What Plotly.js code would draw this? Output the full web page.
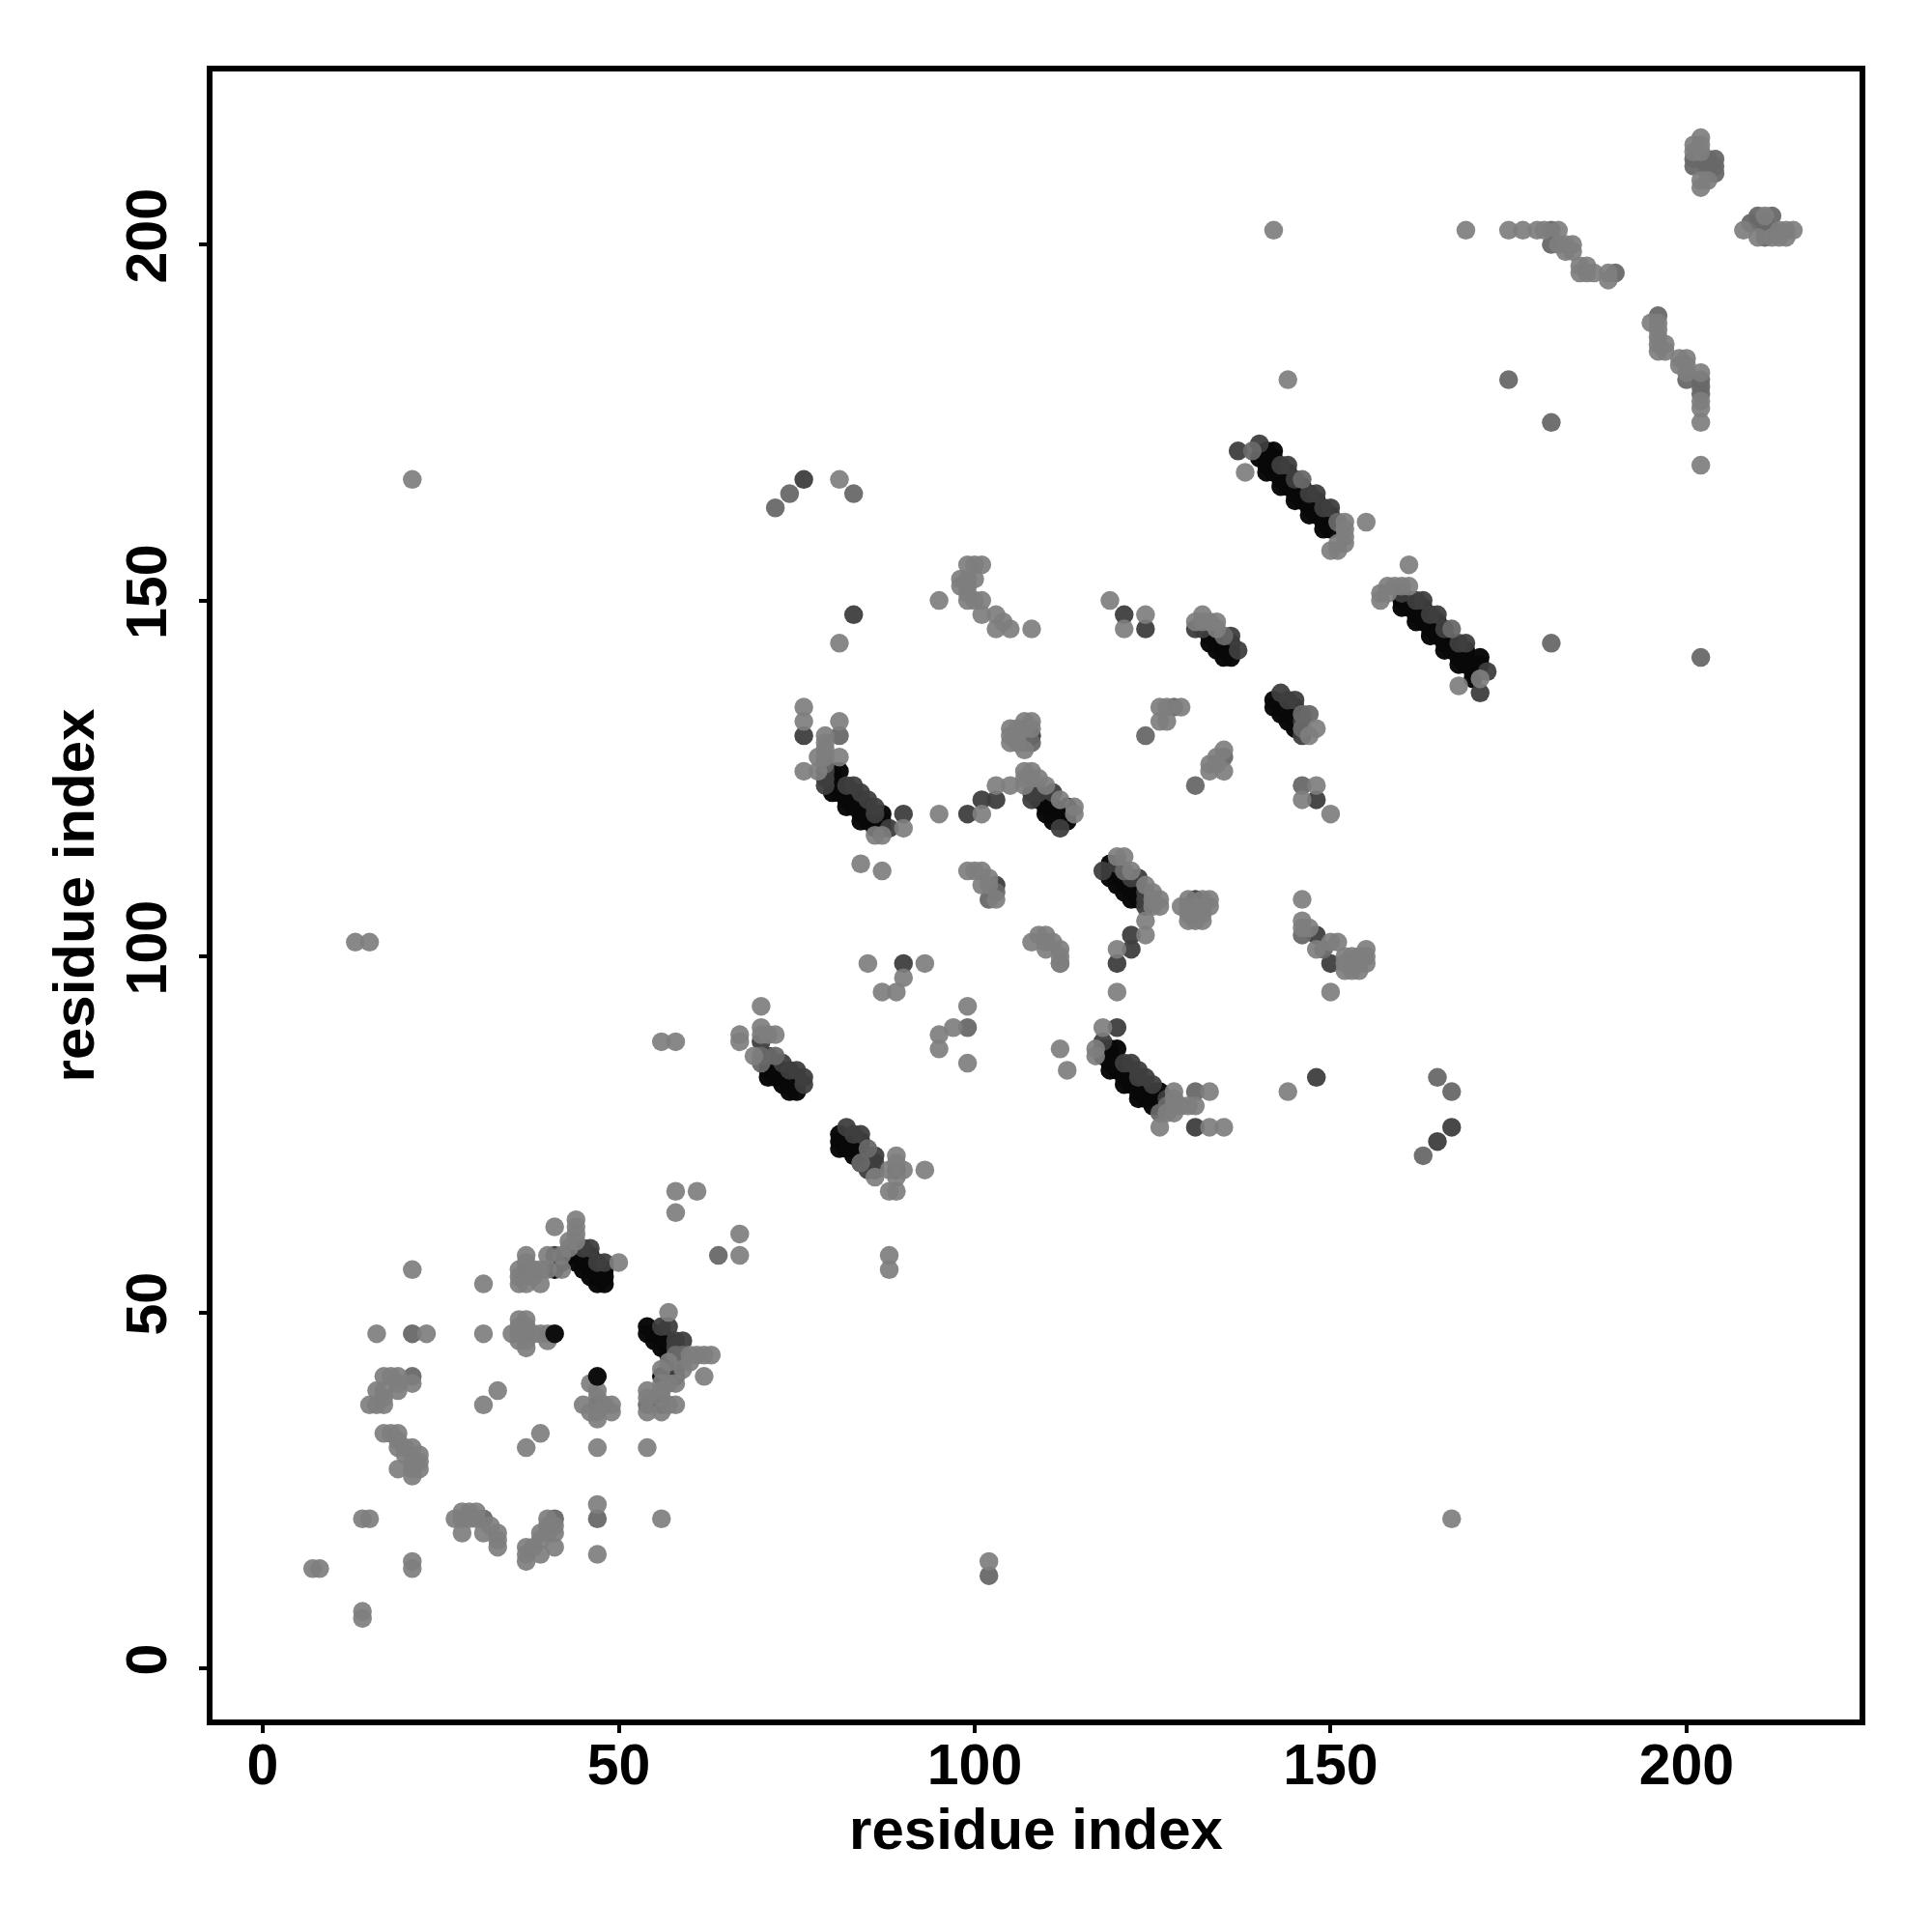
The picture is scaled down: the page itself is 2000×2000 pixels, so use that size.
<!DOCTYPE html>
<html><head><meta charset="utf-8">
<script src="https://cdn.plot.ly/plotly-3.0.1.min.js"></script>
<style>html,body{margin:0;padding:0;background:#fff}</style></head>
<body><div id="chart" style="width:2000px;height:2000px"></div>
<script>
const tickValues = [0, 50, 100, 150, 200];
const axisLabel = "residue index";

const blackContacts = [
[47,54],[48,54],[45,56],[47,56],[48,56],[43,58],[44,58],[44,57],[45,57],[46,57],[46,56],[46,55],[47,55],[41,56],[42,57],[46,58],[45,58],[48,55],
[54,48],[54,47],[55,46],[56,46],[56,45],[57,45],[57,44],[56,41],[55,47],[56,47],[57,46],
[71,85],[71,84],[71,83],[72,84],[72,83],[73,83],[73,82],[74,82],[74,81],[75,82],[75,81],[72,85],[75,83],
[81,75],[81,74],[81,73],[82,74],[82,73],[83,73],[83,72],[84,73],[84,72],[84,71],[85,72],[85,71],[84,74],
[118,86],[118,87],[119,87],[120,87],[119,86],[119,85],[119,84],[120,85],[120,84],[121,84],[121,83],[121,82],[122,83],[122,82],[123,82],[123,81],[123,80],[124,81],[124,80],[125,80],[125,79],[126,81],[126,80],[126,79],[122,84],[125,81],
[80,126],[81,126],[80,125],[80,124],[80,123],[81,124],[81,123],[82,123],[82,122],[82,121],[83,122],[83,121],[84,121],[84,120],[84,119],[85,120],[85,119],[86,119],[86,118],[87,120],[87,119],[87,118],[83,123],[84,122],[85,121],
[109,122],[110,122],[110,121],[110,120],[111,121],[111,120],[112,120],[112,119],[111,119],[113,121],[113,120],[113,119],
[119,113],[119,112],[119,111],[120,112],[120,111],[120,110],[121,111],[121,110],[121,109],[122,110],[122,109],[122,108],[123,109],[123,108],
[133,144],[133,145],[134,144],[134,143],[135,144],[135,143],[135,142],[136,143],[136,142],[136,144],
[142,136],[142,135],[143,135],[143,134],[144,135],[144,134],[144,133],[145,134],[145,133],[145,132],[145,135],
[141,171],[142,171],[140,170],[141,170],[141,169],[141,168],[142,170],[142,169],[142,168],[143,168],[143,167],[143,166],[144,167],[144,166],[145,166],[145,165],[145,164],[146,165],[146,164],[147,164],[147,163],[147,162],[148,163],[148,162],[149,162],[149,161],[149,160],[150,161],[150,160],[144,168],[146,166],[148,164],[150,162],
[160,150],[160,149],[161,150],[161,149],[162,149],[162,148],[162,147],[163,148],[163,147],[164,147],[164,146],[164,145],[165,146],[165,145],[166,145],[166,144],[166,143],[167,144],[167,143],[168,143],[168,142],[168,141],[169,142],[169,141],[170,141],[170,140],[171,142],[171,141],[170,139],[163,149],[165,147],[169,143]
];

const darkContacts = [
[47,57],[48,57],[46,59],[45,59],[41,58],
[56,48],[57,48],[58,46],[59,46],[58,45],[58,41],[58,42],
[37,56],[37,47],[47,37],[56,37],
[71,86],[73,85],[74,84],[75,84],[76,83],[76,82],[70,88],
[82,76],[83,75],[84,75],[86,72],[86,71],[86,70],[85,70],[89,70],
[118,88],[120,90],[121,85],[122,85],[123,84],[124,83],[123,83],[125,82],[127,80],[131,76],
[79,126],[79,125],[79,124],[82,124],[83,124],[84,123],[85,122],[86,121],[86,120],[90,120],[88,118],[76,131],[99,120],[101,122],[103,122],[90,99],
[108,122],[108,123],[109,123],[111,123],[112,118],[108,131],[103,110],[131,108],[131,107],
[118,112],[120,113],[122,111],[123,111],[124,109],[124,108],[124,107],[122,103],[122,101],[120,99],
[131,146],[132,146],[136,145],[137,143],
[143,137],[144,136],[145,136],[146,131],[146,133],[148,122],[148,83],[150,99],[148,103],
[137,171],[140,172],[143,169],[144,169],[145,167],[147,165],[148,165],[149,163],[150,163],
[160,151],[162,150],[163,150],[164,148],[165,148],[166,146],[168,144],[169,144],[172,140],[171,137],
[83,148],[76,167],[121,148],[167,76],[165,74],[124,146]
];

const midContacts = [
[21,47],[21,41],[31,21],[41,21],[47,21],[54,37],[64,58],[58,44],[59,44],
[70,86],[70,85],[72,86],[85,73],[84,71],[99,90],[131,81],
[127,79],[126,78],[79,127],[81,131],[108,130],[107,130],[107,131],[128,135],[135,128],[124,131],[131,124],
[121,112],[146,124],[146,134],[146,132],[147,134],[135,145],[139,171],[146,167],[151,161],[167,146],[146,103],[149,101],
[181,202],[181,200],[190,196],[196,190],[200,181],[202,181],[202,180],[202,179],[175,181],[181,175],[204,212],[204,211],[204,210],[203,212],[203,211],[202,212],[203,210],[209,203],[210,204],[212,204],[211,203],[211,202],[212,202],[211,201],[201,212],[201,211],
[72,163],[74,165],[83,165],[163,72],[165,83],[167,81],[102,108],[103,109],[102,13],[181,144],[202,142]
];

const lightContacts = [
[58,67],[61,67],[58,64],[67,61],[67,58],[31,54],[21,56],
[41,62],[44,63],[44,62],[44,61],[44,60],[43,60],[43,59],[42,58],[40,58],[42,56],[50,57],[37,58],[36,56],[38,56],[36,54],[37,54],[39,54],[38,55],[39,56],[37,57],[40,56],[36,55],
[16,47],[23,47],[31,47],[35,47],[36,49],[37,49],[36,47],[37,46],[36,46],[38,47],[39,47],[40,47],[40,46],[37,45],[36,48],[37,48],
[57,50],[60,44],[61,44],[62,44],[63,44],[62,41],[56,42],[59,42],[58,40],[57,43],[60,43],[54,39],[56,39],[56,40],[57,40],[57,37],[58,37],[54,36],[56,36],[56,38],[54,38],[54,31],
[46,40],[47,39],[47,38],[45,37],[47,36],[47,35],[46,36],[49,37],[49,36],[48,37],[47,31],[47,23],[47,16],
[33,39],[31,37],[39,33],[37,31],[56,21],
[17,41],[19,41],[18,41],[21,40],[19,39],[19,40],[16,39],[17,39],[17,38],[15,37],[16,37],[17,37],
[17,33],[18,33],[19,33],[19,32],[20,31],[19,31],[21,31],[22,30],[22,29],[22,28],[19,28],[21,27],[21,28],[21,29],[20,30],
[14,21],[15,21],[27,21],[28,22],[29,22],[30,22],[28,21],[29,21],[28,19],[30,21],[31,19],[33,19],[33,18],[33,17],[32,20],
[40,21],[40,20],[40,19],[39,19],[41,19],[41,17],[39,16],[37,17],[37,16],[37,15],[38,17],[39,18],[41,20],
[21,15],[21,14],[7,14],[8,14],[14,8],[14,7],
[13,102],[15,102],[167,21],[21,167],[58,88],[56,88],[88,58],[88,56],[102,15],
[70,93],[67,89],[67,88],[70,90],[71,89],[72,89],[69,86],[70,89],
[86,69],[89,72],[88,70],[90,70],[93,70],[88,67],[89,67],[89,71],[89,69],
[85,99],[87,95],[89,95],[90,97],[93,99],[99,93],[95,89],[97,90],[95,87],[99,85],[113,84],[112,87],[112,99],[120,95],[81,144],
[118,90],[117,87],[117,86],[128,81],[133,81],[129,79],[131,79],[128,80],[127,78],[128,79],[130,79],[128,78],[126,76],[133,76],[135,76],
[76,135],[76,133],[81,133],[79,131],[79,129],[79,130],[78,128],[79,128],[81,128],[76,126],[78,126],[90,118],[86,117],[87,117],[84,113],[87,112],[95,120],[101,120],[103,124],[105,124],
[107,126],[108,126],[107,125],[108,125],[107,124],[109,125],[110,124],[112,122],[114,121],[114,120],
[105,132],[105,130],[105,131],[106,132],[106,130],[107,133],[108,133],[107,132],[108,132],[107,129],[106,131],
[126,135],[129,135],[127,135],[126,133],[127,133],[135,129],[134,128],[133,127],[133,126],[135,126],[134,127],
[99,112],[100,112],[101,112],[101,110],[102,111],[102,110],[103,108],
[120,114],[121,114],[122,112],[124,110],[125,109],[126,108],[126,107],[125,108],[125,107],[124,105],[124,103],[120,101],
[129,107],[130,108],[132,108],[133,108],[133,107],[130,105],[132,105],[131,105],[130,107],[132,107],[130,106],[132,106],
[108,102],[109,103],[110,103],[110,101],[111,102],[112,101],[112,100],[112,99],[110,102],
[146,108],[146,105],[147,104],[146,104],[148,101],[151,102],[150,102],[150,95],[152,100],[152,98],[153,98],[154,98],[155,101],[155,100],[155,99],[153,99],[154,99],[152,99],[153,100],[154,100],
[144,81],[124,148],[119,150],[121,146],
[147,131],[148,132],[148,124],[146,122],[150,120],
[132,148],[131,147],[133,147],[134,147],[132,147],[134,146],
[138,168],[152,161],[152,160],[152,159],[152,158],[150,157],[151,157],[151,158],[155,161],
[161,155],[157,151],[157,150],[158,152],[159,152],[160,152],[161,152],[158,151],[168,138],[171,139],
[169,202],[175,202],[177,202],[179,202],[180,202],[182,202],[182,200],[183,200],[184,200],[183,199],[184,199],[185,197],[185,196],[186,197],[186,196],[187,196],[189,196],[189,195],
[142,202],[144,181],[202,169],[202,175],[202,177],[202,178],[202,182],[200,182],[200,184],[199,184],[199,183],[200,183],
[195,189],[196,189],[196,188],[196,187],[197,186],[196,185],[197,185],[196,186],
[202,215],[201,214],[202,214],[201,213],[202,213],[202,209],[202,208],[203,209],
[208,202],[211,204],[210,201],[212,201],[213,201],[214,201],[213,202],[214,202],[215,202],
[81,167],[95,150],[99,153],[100,155],[101,155],[99,155],[98,153],[98,152],[99,152],[100,153],[99,151],[100,150],[101,150],[99,150],[101,148],[103,148],[103,146],[105,146],[104,147],[108,146]
];

const topBlackContacts = [[41,47],[47,41]];

const groups = [
  {pts: blackContacts,    color: "rgba(8,8,8,0.98)"},
  {pts: darkContacts,     color: "rgba(62,62,62,0.95)"},
  {pts: midContacts,      color: "rgba(104,104,104,0.95)"},
  {pts: lightContacts,    color: "rgba(126,126,126,0.92)"},
  {pts: topBlackContacts, color: "rgba(14,14,14,1)"}
];

const traces = groups.map(g => ({
  type: "scatter", mode: "markers",
  x: g.pts.map(p => p[0]), y: g.pts.map(p => p[1]),
  marker: {size: 19.5, color: g.color, line: {width: 0}},
  hoverinfo: "skip", cliponaxis: true
}));

const fontFam = '"Liberation Sans", Arial, sans-serif';
const baseAxis = {
  showgrid: false, zeroline: false, showline: true, mirror: true,
  linecolor: "#000", linewidth: 6,
  ticks: "outside", ticklen: 8, tickwidth: 4, tickcolor: "#000",
  tickmode: "array", tickvals: tickValues, ticktext: tickValues.map(String),
  tickfont: {family: fontFam, size: 59, color: "#000", weight: 700}
};

const layout = {
  width: 2000, height: 2000, paper_bgcolor: "#fff", plot_bgcolor: "#fff",
  showlegend: false,
  margin: {l: 220, r: 75, t: 74, b: 220, pad: 0},
  xaxis: Object.assign({}, baseAxis, {
    range: [-7.06, 224.3], ticklabelstandoff: -18,
    title: {text: "<b>" + axisLabel + "</b>", standoff: 6, font: {family: fontFam, size: 60, color: "#000"}}
  }),
  yaxis: Object.assign({}, baseAxis, {
    range: [-7.19, 224.3], tickangle: -90, ticklabelstandoff: 10,
    title: {text: "<b>" + axisLabel + "</b>", standoff: 4, font: {family: fontFam, size: 60, color: "#000"}}
  })
};
Plotly.newPlot("chart", traces, layout, {displayModeBar: false, staticPlot: true});
</script></body></html>
